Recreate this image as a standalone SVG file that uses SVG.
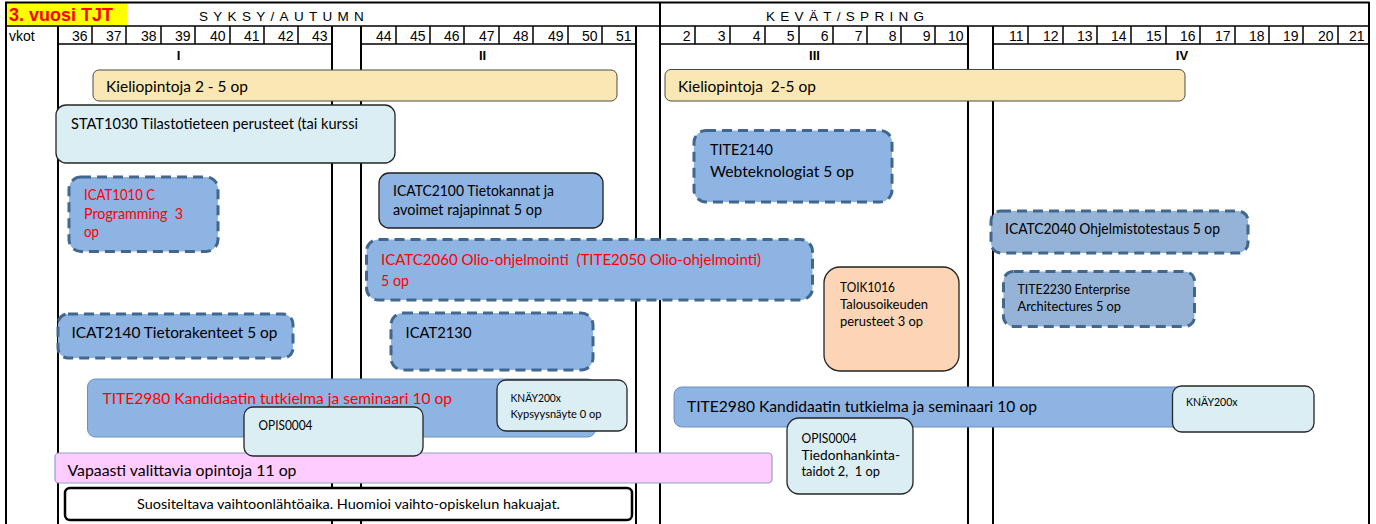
<svg xmlns="http://www.w3.org/2000/svg" width="1376" height="524" viewBox="0 0 1376 524" xml:space="preserve">
<style>
text{white-space:pre}
.ln{stroke:#000;stroke-width:1.5;fill:none}
.lv{stroke:#000;stroke-width:2;fill:none}
.hd{font-family:"Liberation Sans",Arial,sans-serif;font-size:14px;fill:#000}
.wk{font-family:"Liberation Sans",Arial,sans-serif;font-size:14px;fill:#000;text-anchor:end}
.pr{font-family:"Liberation Sans",Arial,sans-serif;font-size:13px;font-weight:bold;fill:#000;text-anchor:middle}
.sea{font-family:"Liberation Sans",Arial,sans-serif;font-size:13.5px;fill:#000;letter-spacing:5.3px}
.t{font-family:Lato,"Noto Sans",sans-serif;font-size:15px;fill:#000}
.tr{font-family:Lato,"Noto Sans",sans-serif;font-size:15px;fill:#FF0000}
.ts{font-family:Lato,"Noto Sans",sans-serif;font-size:12.8px;fill:#000}
.tn{font-family:Lato,"Noto Sans",sans-serif;font-size:13.5px;fill:#000}
.tx{font-family:Lato,"Noto Sans",sans-serif;font-size:11.6px;fill:#000}
.yel{fill:#FBE7B3;stroke:#4a4a4a;stroke-width:1}
.cyan{fill:#DAEEF3;stroke:#262626;stroke-width:1.3}
.dash{fill:#8EB4E3;stroke:#41678F;stroke-width:3;stroke-dasharray:10 6}
.dash2{fill:#95B3D7;stroke:#41678F;stroke-width:3;stroke-dasharray:10 6}
.solid{fill:#8EB4E3;stroke:#1f1f1f;stroke-width:1.3}
.bar{fill:#8EB4E3;stroke:#6D8FC0;stroke-width:1}
.peach{fill:#FBD5B5;stroke:#222;stroke-width:1.3}
.pink{fill:#FFCCFF;stroke:#8EA3CC;stroke-width:1.2}
.note{fill:#fff;stroke:#000;stroke-width:2.5}
</style>

<g id="grid">
  <rect x="6" y="3" width="121" height="22" fill="#FFFF00"/>
  <text x="9" y="21" font-family="Liberation Sans,Arial,sans-serif" font-size="18" font-weight="bold" fill="#FF0000">3. vuosi TJT</text>
  <text class="sea" x="199" y="21">SYKSY/AUTUMN</text>
  <text class="sea" x="766" y="21">KEVÄT/SPRING</text>
  <path class="lv" d="M5,2.5H1369.5M6,2V524M1369,2V524M660,2V524"/>
  <path class="ln" d="M6,26H1369M58,44H332M361,44H636M660,44H968M993,44H1369"/>
  <path class="lv" d="M58,26V524M332,26V524M361,26V524M636,26V524M968,26V524M993,26V524"/>
  <path class="ln" d="M92,26V44M126,26V44M161,26V44M195,26V44M230,26V44M264,26V44M298,26V44M396,26V44M430,26V44M464,26V44M499,26V44M533,26V44M568,26V44M602,26V44M695,26V44M730,26V44M765,26V44M799,26V44M833,26V44M867,26V44M901,26V44M935,26V44M1028,26V44M1063,26V44M1097,26V44M1131,26V44M1166,26V44M1200,26V44M1235,26V44M1269,26V44M1303,26V44M1338,26V44"/>
  <text class="hd" x="9" y="41">vkot</text>
  <g class="wk">
    <text x="87.5" y="41">36</text><text x="121.5" y="41">37</text><text x="156.5" y="41">38</text><text x="190.5" y="41">39</text><text x="225.5" y="41">40</text><text x="259.5" y="41">41</text><text x="293.5" y="41">42</text><text x="327.5" y="41">43</text>
    <text x="391.5" y="41">44</text><text x="425.5" y="41">45</text><text x="459.5" y="41">46</text><text x="494.5" y="41">47</text><text x="528.5" y="41">48</text><text x="563.5" y="41">49</text><text x="597.5" y="41">50</text><text x="631.5" y="41">51</text>
    <text x="690.5" y="41">2</text><text x="725.5" y="41">3</text><text x="760.5" y="41">4</text><text x="794.5" y="41">5</text><text x="828.5" y="41">6</text><text x="862.5" y="41">7</text><text x="896.5" y="41">8</text><text x="930.5" y="41">9</text><text x="963.5" y="41">10</text>
    <text x="1023.5" y="41">11</text><text x="1058.5" y="41">12</text><text x="1092.5" y="41">13</text><text x="1126.5" y="41">14</text><text x="1161.5" y="41">15</text><text x="1195.5" y="41">16</text><text x="1230.5" y="41">17</text><text x="1264.5" y="41">18</text><text x="1298.5" y="41">19</text><text x="1333.5" y="41">20</text><text x="1364.5" y="41">21</text>
  </g>
  <text class="pr" x="178.5" y="60">I</text>
  <text class="pr" x="482.5" y="60">II</text>
  <text class="pr" x="814.5" y="60">III</text>
  <text class="pr" x="1182" y="60">IV</text>
</g>

<g id="connectors"></g>

<g id="kielio1"><rect class="yel" x="93" y="70" width="524" height="31" rx="6"/><text class="t" x="106" y="92" textLength="142" lengthAdjust="spacingAndGlyphs">Kieliopintoja 2 - 5 op</text></g>
<g id="kielio2"><rect class="yel" x="665" y="69.5" width="520" height="31.5" rx="6"/><text class="t" x="678" y="91.5" textLength="138" lengthAdjust="spacingAndGlyphs">Kieliopintoja  2-5 op</text></g>
<g id="stat1030"><rect class="cyan" x="56" y="105" width="339" height="58" rx="10"/><text class="t" x="71" y="129" textLength="287" lengthAdjust="spacingAndGlyphs">STAT1030 Tilastotieteen perusteet (tai kurssi</text></g>
<g id="icat1010"><rect class="dash" x="69" y="177" width="149" height="74.5" rx="12"/>
  <text class="tr" x="84" y="200" textLength="71" lengthAdjust="spacingAndGlyphs">ICAT1010 C</text>
  <text class="tr" x="84" y="218.5" textLength="99" lengthAdjust="spacingAndGlyphs">Programming  3</text>
  <text class="tr" x="84" y="237" textLength="15" lengthAdjust="spacingAndGlyphs">op</text></g>
<g id="icatc2100"><rect class="solid" x="379" y="173" width="224" height="55" rx="10"/>
  <text class="t" x="393" y="196" textLength="161" lengthAdjust="spacingAndGlyphs">ICATC2100 Tietokannat ja</text>
  <text class="t" x="393" y="215" textLength="149" lengthAdjust="spacingAndGlyphs">avoimet rajapinnat 5 op</text></g>
<g id="tite2140"><rect class="dash" x="694" y="130.5" width="198" height="71.5" rx="12"/>
  <text class="t" x="710" y="155" textLength="63" lengthAdjust="spacingAndGlyphs">TITE2140</text>
  <text class="t" x="710" y="177" textLength="144" lengthAdjust="spacingAndGlyphs">Webteknologiat 5 op</text></g>
<g id="icatc2060"><rect class="dash" x="366.5" y="239.5" width="446" height="60.5" rx="12"/>
  <text class="tr" x="381" y="265" textLength="380" lengthAdjust="spacingAndGlyphs">ICATC2060 Olio-ohjelmointi  (TITE2050 Olio-ohjelmointi)</text>
  <text class="tr" x="381" y="285.5" textLength="28" lengthAdjust="spacingAndGlyphs">5 op</text></g>
<g id="icatc2040"><rect class="dash2" x="991" y="211" width="257" height="42" rx="10"/>
  <text class="t" x="1005" y="234" textLength="215" lengthAdjust="spacingAndGlyphs">ICATC2040 Ohjelmistotestaus 5 op</text></g>
<g id="toik1016"><rect class="peach" x="824" y="267" width="135" height="104" rx="16"/>
  <text class="ts" x="840" y="291.5" textLength="55" lengthAdjust="spacingAndGlyphs">TOIK1016</text>
  <text class="ts" x="840" y="308.5" textLength="88" lengthAdjust="spacingAndGlyphs">Talousoikeuden</text>
  <text class="ts" x="840" y="325.5" textLength="83" lengthAdjust="spacingAndGlyphs">perusteet 3 op</text></g>
<g id="tite2230"><rect class="dash2" x="1003.5" y="271.5" width="191" height="55" rx="10"/>
  <text class="ts" x="1017.5" y="293.5" textLength="112.5" lengthAdjust="spacingAndGlyphs">TITE2230 Enterprise</text>
  <text class="ts" x="1017.5" y="310.5" textLength="103.5" lengthAdjust="spacingAndGlyphs">Architectures 5 op</text></g>
<g id="icat2140"><rect class="dash" x="58" y="314" width="235" height="44" rx="10"/>
  <text class="t" x="71.5" y="338" textLength="206" lengthAdjust="spacingAndGlyphs">ICAT2140 Tietorakenteet 5 op</text></g>
<g id="icat2130"><rect class="dash" x="391" y="313" width="202" height="57" rx="12"/>
  <text class="t" x="405.5" y="338" textLength="66" lengthAdjust="spacingAndGlyphs">ICAT2130</text></g>
<g id="tite2980a"><rect class="bar" x="87.5" y="379" width="508" height="58" rx="8"/>
  <text class="tr" x="102.5" y="404" textLength="349.5" lengthAdjust="spacingAndGlyphs">TITE2980 Kandidaatin tutkielma ja seminaari 10 op</text></g>
<g id="knay1"><rect class="cyan" x="497" y="380" width="130" height="51" rx="9"/>
  <text class="tx" x="510.5" y="401.5" textLength="50.5" lengthAdjust="spacingAndGlyphs">KNÄY200x</text>
  <text class="tx" x="510.5" y="418" textLength="91" lengthAdjust="spacingAndGlyphs">Kypsyysnäyte 0 op</text></g>
<g id="vapaasti"><rect class="pink" x="55" y="453" width="717" height="30" rx="4"/>
  <text class="t" x="67.5" y="475.5" textLength="229" lengthAdjust="spacingAndGlyphs">Vapaasti valittavia opintoja 11 op</text></g>
<g id="opis1"><rect class="cyan" x="244" y="407" width="179" height="49" rx="9"/>
  <text class="ts" x="258.5" y="430" textLength="54" lengthAdjust="spacingAndGlyphs">OPIS0004</text></g>
<g id="tite2980b"><rect class="bar" x="674" y="387" width="520" height="40" rx="8"/>
  <text class="t" x="687" y="411.5" textLength="350" lengthAdjust="spacingAndGlyphs">TITE2980 Kandidaatin tutkielma ja seminaari 10 op</text></g>
<g id="knay2"><rect class="cyan" x="1172.5" y="386" width="141.5" height="46" rx="9"/>
  <text class="tx" x="1186" y="406" textLength="51.5" lengthAdjust="spacingAndGlyphs">KNÄY200x</text></g>
<g id="opis2"><rect class="cyan" x="787" y="418" width="126" height="76" rx="12"/>
  <text class="ts" x="801.5" y="442.5" textLength="55" lengthAdjust="spacingAndGlyphs">OPIS0004</text>
  <text class="ts" x="801.5" y="459.5" textLength="98.5" lengthAdjust="spacingAndGlyphs">Tiedonhankinta-</text>
  <text class="ts" x="801.5" y="476" textLength="78.5" lengthAdjust="spacingAndGlyphs">taidot 2,  1 op</text></g>
<g id="note"><rect class="note" x="65" y="488" width="567" height="32" rx="5"/>
  <text class="tn" x="137" y="508.5" textLength="423" lengthAdjust="spacingAndGlyphs">Suositeltava vaihtoonlähtöaika. Huomioi vaihto-opiskelun hakuajat.</text></g>
</svg>
